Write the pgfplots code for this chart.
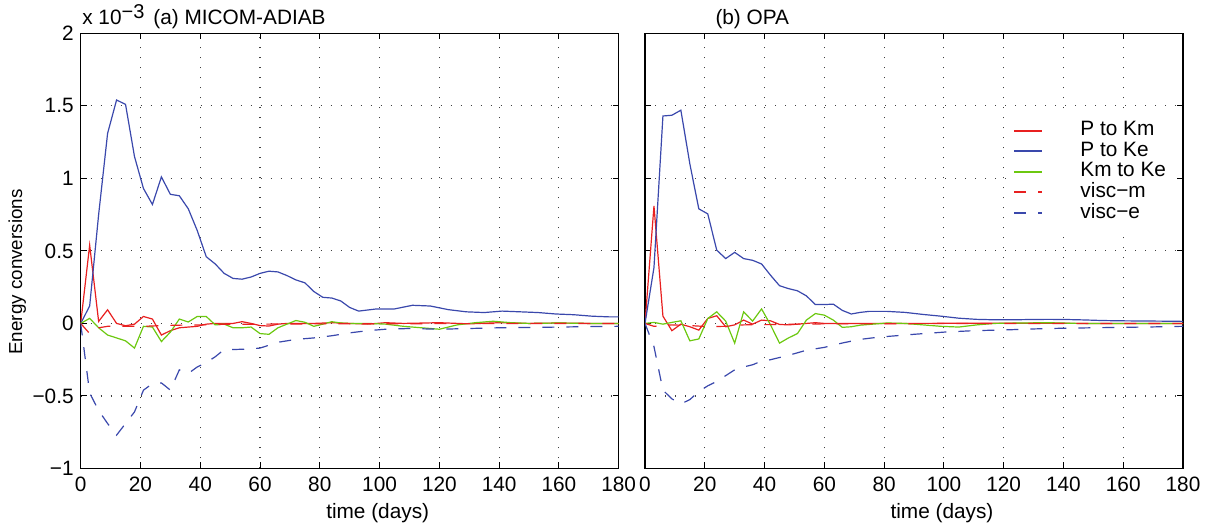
\documentclass[border=0pt]{standalone}
\usepackage{fontspec}
\setmainfont{Liberation Sans}
\usepackage{pgfplots}
\pgfplotsset{compat=1.18}

\definecolor{lnred}{RGB}{232,32,32}
\definecolor{lnblue}{RGB}{58,72,172}
\definecolor{lngreen}{RGB}{108,200,16}

\newcommand{\lblfont}{\fontsize{10.4}{12.5}\selectfont}

\pgfplotsset{
  panel/.style={
    width=269pt, height=217.6pt, scale only axis,
    xmin=0, xmax=180, ymin=-1, ymax=2,
    xtick={0,20,...,180},
    ytick={-1,-0.5,0,0.5,1,1.5,2},
    tick align=inside, major tick length=3pt,
    grid=major,
    major grid style={black!75, line width=0.55pt, dash pattern=on 0.55pt off 4.45pt},
    axis line style={line width=0.65pt},
    every tick/.style={black, line width=0.5pt},
    tick label style={font=\lblfont},
    xticklabel style={yshift=-0.6pt},
    /pgf/number format/assume math mode=true,
    clip mode=individual,
  },
  /tikz/pk/.style={color=lnred, line width=0.6pt},
  /tikz/pe/.style={color=lnblue, line width=0.6pt},
  /tikz/ke/.style={color=lngreen, line width=0.6pt},
  /tikz/vm/.style={color=lnred, line width=0.6pt, dash pattern=on 6pt off 6pt},
  /tikz/ve/.style={color=lnblue, line width=0.6pt, dash pattern=on 6pt off 6pt},
}

\begin{document}
\begin{tikzpicture}
% (a) MICOM-ADIAB
\begin{axis}[panel, at={(0pt,0pt)}, anchor=south west,
  yticklabels={−1,−0.5,0,0.5,1,1.5,2}]
% P to Km
\addplot[pk] coordinates {
 (0,0) (3,0.54) (6,0.014) (9,0.094) (12,0.0) (15,-0.016) (18,-0.005)
 (21,0.048) (24,0.03) (27,-0.08) (30,-0.05) (33,-0.03) (36,-0.025)
 (39,-0.02) (42,-0.005) (45,0.0) (48,0.0) (51,0.0) (54,0.012) (57,0.0)
 (60,-0.015) (63,-0.018) (66,-0.005) (69,0.0) (72,0.0) (78,0.0) (84,0.005)
 (90,0.0) (96,-0.005) (102,0.005) (108,0.0) (120,0.005) (130,-0.003)
 (140,0.005) (150,0.0) (160,0.003) (170,0.0) (180,0.0)};
% P to Ke
\addplot[pe] coordinates {
 (0,0) (3,0.12) (6,0.75) (9,1.31) (12,1.54) (15,1.51) (18,1.15) (21,0.93)
 (24,0.82) (27,1.01) (30,0.89) (33,0.88) (36,0.79) (39,0.64) (42,0.46)
 (45,0.41) (48,0.345) (51,0.31) (54,0.305) (57,0.32) (60,0.345) (63,0.36)
 (66,0.355) (69,0.33) (72,0.30) (75,0.28) (78,0.22) (81,0.18) (84,0.175)
 (87,0.155) (90,0.11) (93,0.085) (99,0.10) (105,0.10) (111,0.125)
 (117,0.12) (123,0.095) (129,0.08) (135,0.075) (141,0.085) (147,0.08)
 (153,0.075) (159,0.065) (165,0.06) (171,0.05) (177,0.045) (180,0.045)};
% Km to Ke
\addplot[ke] coordinates {
 (0,0) (3,0.035) (6,-0.03) (9,-0.08) (12,-0.10) (15,-0.12) (18,-0.17)
 (21,-0.02) (24,-0.025) (27,-0.125) (30,-0.06) (33,0.03) (36,0.01)
 (39,0.048) (42,0.048) (45,-0.01) (48,-0.005) (51,-0.03) (54,-0.03)
 (57,-0.025) (60,-0.07) (63,-0.075) (66,-0.03) (69,-0.005) (72,0.02)
 (75,0.008) (78,-0.02) (81,-0.005) (84,0.012) (87,0.003) (90,0.0)
 (96,0.0) (102,-0.005) (108,-0.02) (114,-0.03) (120,-0.04) (126,-0.01)
 (132,0.005) (138,0.015) (144,0.005) (150,0.0) (160,0.003) (170,0.0) (180,0.0)};
% visc-m
\addplot[vm] coordinates {
 (0,0) (3,-0.07) (6,-0.03) (9,-0.02) (15,-0.02) (21,-0.02) (27,-0.015)
 (33,-0.012) (40,-0.01) (50,-0.005) (60,-0.005) (80,-0.003) (100,-0.002)
 (140,-0.001) (180,0.0)};
% visc-e
\addplot[ve] coordinates {
 (0,0) (3,-0.48) (6,-0.60) (9,-0.69) (12,-0.77) (15,-0.69) (18,-0.61)
 (21,-0.46) (24,-0.415) (27,-0.41) (30,-0.46) (33,-0.32) (36,-0.345)
 (39,-0.30) (42,-0.27) (45,-0.23) (48,-0.18) (51,-0.18) (54,-0.178)
 (57,-0.175) (60,-0.17) (66,-0.13) (72,-0.11) (78,-0.10) (84,-0.085)
 (90,-0.065) (96,-0.05) (102,-0.04) (110,-0.035) (120,-0.04) (130,-0.035)
 (140,-0.03) (150,-0.028) (160,-0.025) (170,-0.022) (180,-0.02)};
\end{axis}

% (b) OPA
\begin{axis}[panel, at={(282.15pt,0pt)}, anchor=south west,
  yticklabels={},
  legend image code/.code={\draw[#1, line width=1pt] (0pt,0pt) -- (14pt,0pt);},
  legend style={at={(0.673,0.815)}, anchor=north west, draw=none, fill=white,
    font=\lblfont, inner xsep=3pt, inner ysep=3pt, row sep=0pt,
    cells={anchor=west},
    nodes={inner ysep=0.3pt, inner xsep=2pt, text height=7.4pt, text depth=2.3pt},
    /tikz/every odd column/.append style={column sep=16.5pt}}]
\addplot[pk] coordinates {
 (0,0) (3,0.81) (6,0.05) (9,-0.05) (12,-0.005) (15,-0.023) (18,-0.046)
 (21,0.034) (24,0.053) (27,-0.023) (30,-0.01) (33,0.023) (36,-0.005)
 (39,0.023) (42,0.018) (45,-0.007) (48,-0.01) (51,-0.005) (54,0.0)
 (57,0.005) (60,0.0) (70,0.0) (90,0.0) (120,0.002) (150,0.0) (180,0.0)};
\addlegendentry{P to Km}
\addplot[pe] coordinates {
 (0,0) (3,0.385) (6,1.43) (9,1.435) (12,1.47) (15,1.10) (18,0.79) (21,0.755)
 (24,0.505) (27,0.447) (30,0.49) (33,0.447) (36,0.435) (39,0.41) (42,0.332)
 (45,0.26) (48,0.24) (51,0.225) (54,0.19) (57,0.13) (60,0.13) (63,0.133)
 (66,0.09) (69,0.065) (72,0.076) (75,0.083) (81,0.083) (87,0.076)
 (93,0.062) (99,0.05) (105,0.036) (111,0.028) (117,0.025) (123,0.025)
 (129,0.027) (135,0.028) (141,0.027) (147,0.024) (153,0.02) (159,0.018)
 (165,0.017) (171,0.016) (177,0.015) (180,0.014)};
\addlegendentry{P to Ke}
\addplot[ke] coordinates {
 (0,0) (3,0.007) (6,-0.005) (9,0.007) (12,0.018) (15,-0.12) (18,-0.107)
 (21,0.034) (24,0.08) (27,0.016) (30,-0.136) (33,0.08) (36,0.016) (39,0.10)
 (42,-0.01) (45,-0.136) (48,-0.10) (51,-0.07) (54,0.023) (57,0.068)
 (60,0.057) (63,0.023) (66,-0.027) (69,-0.023) (72,-0.012) (75,-0.007)
 (81,0.003) (87,0.0) (93,-0.01) (99,-0.02) (105,-0.025) (111,-0.01)
 (117,0.0) (125,0.003) (135,0.005) (145,0.0) (160,0.0) (180,0.0)};
\addlegendentry{Km to Ke}
\addplot[vm] coordinates {
 (0,0) (3,-0.02) (9,-0.01) (15,-0.015) (21,-0.022) (27,-0.02) (33,-0.01)
 (42,-0.008) (51,-0.005) (60,-0.003) (80,-0.002) (120,0.0) (180,0.0)};
\addlegendentry{visc−m}
\addplot[ve] coordinates {
 (0,0) (3,-0.16) (6,-0.46) (9,-0.52) (12,-0.555) (15,-0.525) (18,-0.47)
 (21,-0.43) (24,-0.40) (27,-0.36) (30,-0.32) (33,-0.30) (36,-0.285)
 (39,-0.26) (42,-0.25) (45,-0.235) (48,-0.22) (54,-0.185) (60,-0.165)
 (66,-0.135) (72,-0.11) (78,-0.095) (84,-0.085) (90,-0.075) (100,-0.06)
 (110,-0.05) (120,-0.045) (130,-0.038) (140,-0.033) (150,-0.03)
 (160,-0.027) (170,-0.024) (180,-0.02)};
\addlegendentry{visc−e}
\end{axis}

% titles, scale factor and axis labels
\node[anchor=base west, inner sep=0pt, font=\lblfont] at (0.6pt,221.75pt)
  {x 10\raisebox{3.4pt}{\fontsize{10}{11}\selectfont −3}};
\node[anchor=base west, inner sep=0pt, font=\lblfont] at (36.15pt,221.75pt) {(a) MICOM-ADIAB};
\node[anchor=base west, inner sep=0pt, font=\lblfont] at (317.2pt,221.75pt) {(b) OPA};
\node[rotate=90, anchor=base, font=\fontsize{9.4}{11}\selectfont] at (-29.35pt,98.25pt) {Energy conversions};
\node[anchor=base, font=\lblfont] at (148.5pt,-25pt) {time (days)};
\node[anchor=base, font=\lblfont] at (430.65pt,-25pt) {time (days)};

\pgfresetboundingbox
\useasboundingbox (-40.35pt,-29.75pt) rectangle (564.65pt,234.25pt);
\end{tikzpicture}
\end{document}
